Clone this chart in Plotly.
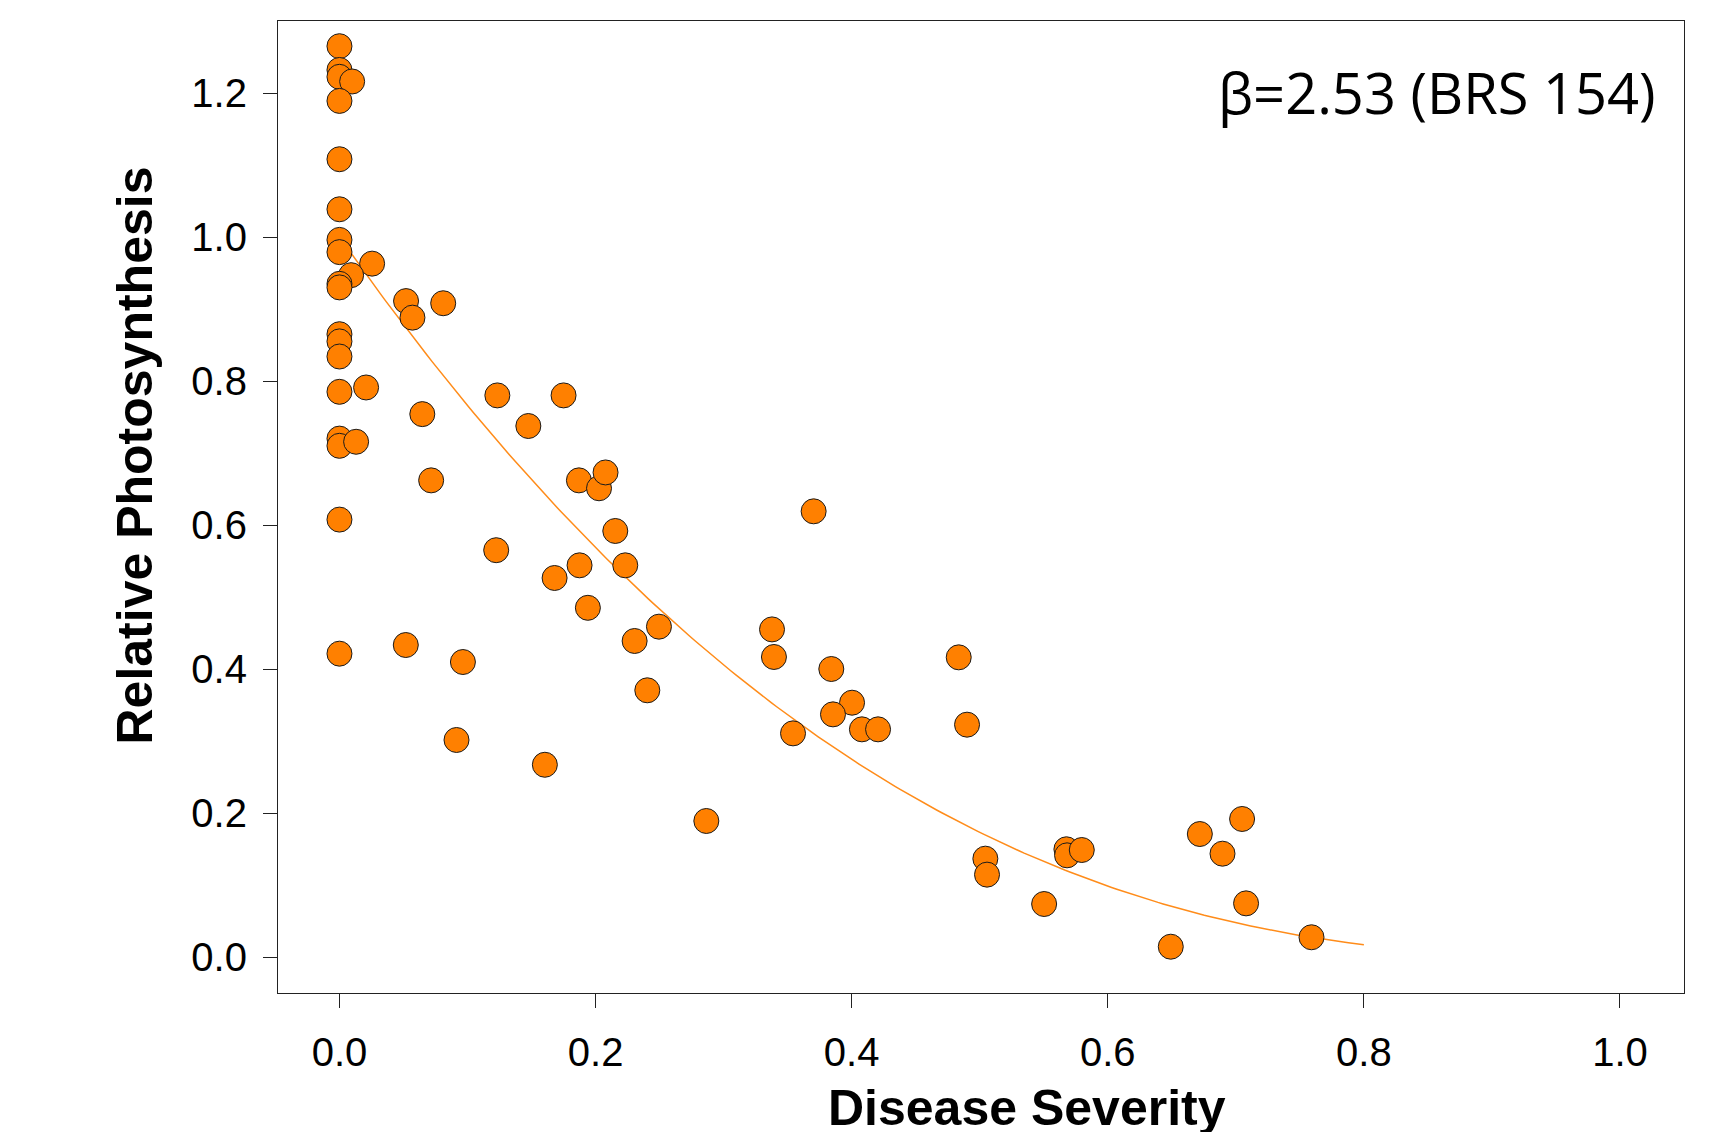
import numpy as np
import plotly.graph_objects as go

# Observed data: disease severity (x) and relative photosynthesis (y)
severity = [
    0.0, 0.0, 0.0, 0.0099, 0.0, 0.0, 0.0, 0.0, 0.0, 0.0255, 0.0091, 0.0, 0.0,
    0.052, 0.081, 0.057, 0.0, 0.0, 0.0, 0.0, 0.0208, 0.0647, 0.0, 0.0, 0.013,
    0.0716, 0.0, 0.1233, 0.175, 0.1475, 0.187, 0.2027, 0.2078,
    0.1224, 0.2154, 0.1875, 0.2232, 0.168, 0.194, 0.2495, 0.2305, 0.2404,
    0.0, 0.0518, 0.0964, 0.0914, 0.1604,
    0.3703, 0.3378, 0.3393, 0.3841, 0.4003, 0.3854, 0.408, 0.4206, 0.3542,
    0.4836, 0.4901, 0.2865,
    0.5044, 0.5057, 0.5503, 0.5677, 0.5682, 0.5797, 0.6492, 0.6719, 0.7049,
    0.6896, 0.708, 0.7591,
]
photosynthesis = [
    1.265, 1.232, 1.2225, 1.216, 1.189, 1.108, 1.0385, 0.996, 0.979, 0.963, 0.947, 0.935, 0.930,
    0.911, 0.908, 0.888, 0.865, 0.855, 0.834, 0.785, 0.791, 0.754, 0.72, 0.710, 0.7156,
    0.662, 0.6075, 0.78, 0.78, 0.7375, 0.662, 0.651, 0.673,
    0.565, 0.5917, 0.544, 0.544, 0.5264, 0.485, 0.4588, 0.4389, 0.3704,
    0.4213, 0.4333, 0.4097, 0.3014, 0.267,
    0.619, 0.455, 0.4167, 0.40, 0.3532, 0.337, 0.3162, 0.3162, 0.3106,
    0.4162, 0.3227, 0.1889,
    0.1366, 0.1144, 0.0736, 0.1496, 0.1412, 0.1486, 0.0143, 0.1708, 0.1917,
    0.1435, 0.0745, 0.0274,
]

# Fitted damage model: y = (1 - x) ** beta
beta = 2.53
fit_x_max = 0.8
fit_x = np.linspace(0.0, fit_x_max, 200)
fit_y = (1.0 - fit_x) ** beta

x_ticks = [0.0, 0.2, 0.4, 0.6, 0.8, 1.0]
y_ticks = [0.0, 0.2, 0.4, 0.6, 0.8, 1.0, 1.2]

label_text = "β=2.53 (BRS 154)"
x_title = "Disease Severity"
y_title = "Relative Photosynthesis"

fig = go.Figure()
fig.add_trace(go.Scatter(
    x=fit_x, y=fit_y, mode="lines",
    line=dict(color="#FF8C1A", width=1.5),
    hoverinfo="skip", showlegend=False,
))
fig.add_trace(go.Scatter(
    x=severity, y=photosynthesis, mode="markers",
    marker=dict(size=25, color="#FF8000", line=dict(color="#1a1a1a", width=1)),
    showlegend=False,
))

tick_font = dict(family="Liberation Sans, Arial, sans-serif", size=40, color="black")

fig.update_layout(
    width=1731, height=1132,
    margin=dict(l=278, r=47, t=21, b=139),
    paper_bgcolor="white", plot_bgcolor="white",
    xaxis=dict(
        range=[-0.048, 1.05], tickvals=x_ticks,
        ticktext=[f"{v:.1f}" for v in x_ticks],
        showgrid=False, zeroline=False,
        showline=True, mirror=True, linecolor="#222", linewidth=1.2,
        ticks="outside", ticklen=14, tickwidth=1, tickcolor="#222",
        tickfont=tick_font, ticklabelstandoff=10,
    ),
    yaxis=dict(
        range=[-0.05, 1.3], tickvals=y_ticks,
        ticktext=[f"{v:.1f}" for v in y_ticks],
        showgrid=False, zeroline=False,
        showline=True, mirror=True, linecolor="#222", linewidth=1.2,
        ticks="outside", ticklen=14, tickwidth=1, tickcolor="#222",
        tickfont=tick_font, ticklabelstandoff=8,
    ),
    annotations=[
        dict(text=label_text, x=1.03, y=1.201, xref="x", yref="y",
             xanchor="right", yanchor="middle", showarrow=False,
             font=dict(family="Open Sans, sans-serif", size=56, color="black")),
        dict(text=f"<b>{x_title}</b>", x=0.533, y=-0.118, xref="paper", yref="paper",
             xanchor="center", yanchor="middle", showarrow=False,
             font=dict(family="Liberation Sans, Arial, sans-serif", size=50, color="black")),
        dict(text=f"<b>{y_title}</b>", x=-0.1017, y=0.553, xref="paper", yref="paper",
             xanchor="center", yanchor="middle", showarrow=False, textangle=-90,
             font=dict(family="Liberation Sans, Arial, sans-serif", size=50, color="black")),
    ],
)

fig.write_html("out.html")
